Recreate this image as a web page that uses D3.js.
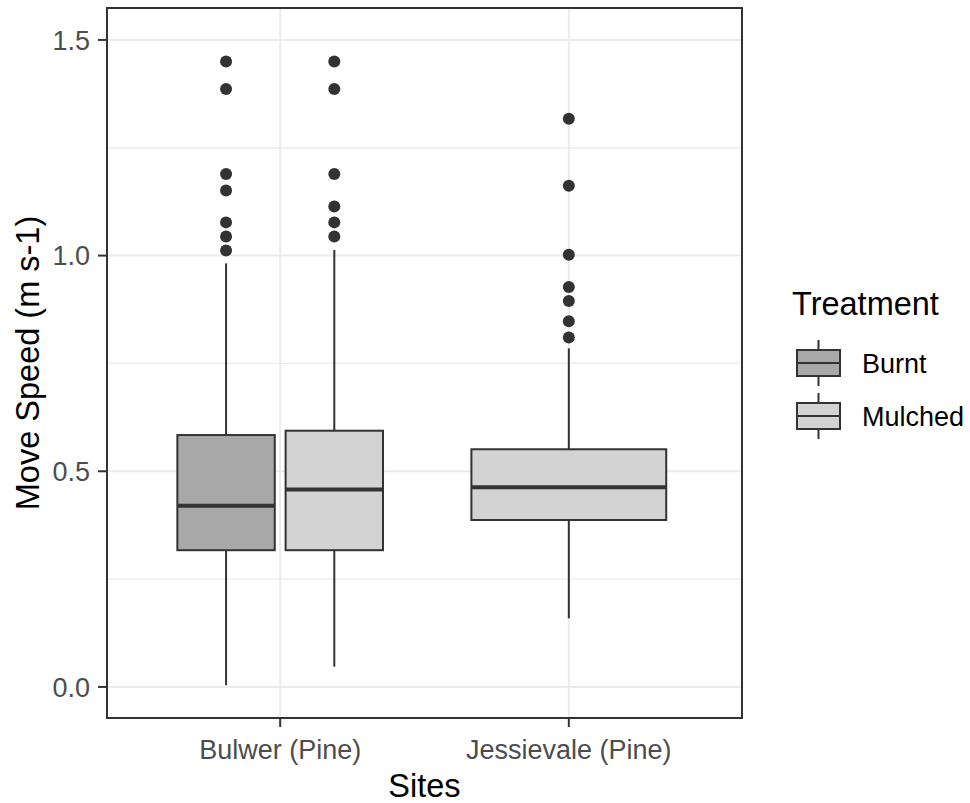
<!DOCTYPE html>
<html>
<head>
<meta charset="utf-8">
<script src="https://cdn.jsdelivr.net/npm/d3@7"></script>
<style>
  body { margin: 0; background: #fff; }
  text { font-family: "Liberation Sans", Arial, sans-serif; }
</style>
</head>
<body>
<svg id="chart" width="970" height="803"></svg>
<script>
// Daten
var sites = ["Bulwer (Pine)", "Jessievale (Pine)"];
var treatments = ["Burnt", "Mulched"];
var fills = ["#a8a8a8", "#d3d3d3"];

// eine Box pro Eintrag
var boxSite      = ["Bulwer (Pine)", "Bulwer (Pine)", "Jessievale (Pine)"];
var boxTreatment = ["Burnt", "Mulched", "Mulched"];
var boxLower     = [0.004, 0.047, 0.159];
var boxQ1        = [0.317, 0.317, 0.387];
var boxMedian    = [0.420, 0.458, 0.463];
var boxQ3        = [0.584, 0.594, 0.551];
var boxUpper     = [0.982, 1.013, 0.785];
var boxOutliers  = [
  [1.450, 1.386, 1.189, 1.151, 1.077, 1.044, 1.012],
  [1.450, 1.386, 1.189, 1.114, 1.077, 1.044],
  [1.317, 1.162, 1.002, 0.927, 0.895, 0.848, 0.810]
];

var yMajor = [0, 0.5, 1.0, 1.5];
var yMinor = [0.25, 0.75, 1.25];

var panel = {left: 107, right: 742, top: 8, bottom: 718};
var ink = "#333333";

var svg = d3.select("#chart");

var x = d3.scalePoint().domain(sites).range([panel.left, panel.right]).padding(0.6);
var y = d3.scaleLinear().domain([-0.072, 1.574]).range([panel.bottom, panel.top]);
var step = x.step();

// Gitterlinien
var grid = svg.append("g");
grid.selectAll(".minor").data(yMinor).enter().append("line")
  .attr("x1", panel.left).attr("x2", panel.right)
  .attr("y1", function(d){ return y(d); }).attr("y2", function(d){ return y(d); })
  .attr("stroke", "#ebebeb").attr("stroke-width", 1.3);
grid.selectAll(".major").data(yMajor).enter().append("line")
  .attr("x1", panel.left).attr("x2", panel.right)
  .attr("y1", function(d){ return y(d); }).attr("y2", function(d){ return y(d); })
  .attr("stroke", "#ebebeb").attr("stroke-width", 2);
grid.selectAll(".vmajor").data(sites).enter().append("line")
  .attr("y1", panel.top).attr("y2", panel.bottom)
  .attr("x1", function(d){ return x(d); }).attr("x2", function(d){ return x(d); })
  .attr("stroke", "#ebebeb").attr("stroke-width", 2);

// Boxen: dodge2 mit padding 0.1
var boxes = boxSite.map(function(s, i){
  var n = boxSite.filter(function(t){ return t === s; }).length;
  var k = boxSite.slice(0, i).filter(function(t){ return t === s; }).length;
  var slot = 0.75 * step / n;
  var cx = x(s) - 0.375 * step + slot * (k + 0.5);
  return {
    cx: cx, w: slot * 0.9,
    fill: fills[treatments.indexOf(boxTreatment[i])],
    lower: boxLower[i], q1: boxQ1[i], med: boxMedian[i], q3: boxQ3[i],
    upper: boxUpper[i], out: boxOutliers[i]
  };
});

var bg = svg.append("g");
boxes.forEach(function(b){
  var g = bg.append("g");
  g.append("line").attr("x1", b.cx).attr("x2", b.cx)
    .attr("y1", y(b.q3)).attr("y2", y(b.upper)).attr("stroke", ink).attr("stroke-width", 2);
  g.append("line").attr("x1", b.cx).attr("x2", b.cx)
    .attr("y1", y(b.q1)).attr("y2", y(b.lower)).attr("stroke", ink).attr("stroke-width", 2);
  g.append("rect")
    .attr("x", b.cx - b.w / 2).attr("width", b.w)
    .attr("y", y(b.q3)).attr("height", y(b.q1) - y(b.q3))
    .attr("fill", b.fill).attr("stroke", ink).attr("stroke-width", 2);
  g.append("line").attr("x1", b.cx - b.w / 2).attr("x2", b.cx + b.w / 2)
    .attr("y1", y(b.med)).attr("y2", y(b.med)).attr("stroke", ink).attr("stroke-width", 4);
  g.selectAll("circle").data(b.out).enter().append("circle")
    .attr("cx", b.cx).attr("cy", function(d){ return y(d); })
    .attr("r", 6).attr("fill", ink);
});

// Rahmen
svg.append("rect")
  .attr("x", panel.left).attr("y", panel.top)
  .attr("width", panel.right - panel.left).attr("height", panel.bottom - panel.top)
  .attr("fill", "none").attr("stroke", ink).attr("stroke-width", 2);

// Achsen
var yAxis = svg.append("g");
yAxis.selectAll("line").data(yMajor).enter().append("line")
  .attr("x1", panel.left - 9).attr("x2", panel.left)
  .attr("y1", function(d){ return y(d); }).attr("y2", function(d){ return y(d); })
  .attr("stroke", ink).attr("stroke-width", 2);
yAxis.selectAll("text").data(yMajor).enter().append("text")
  .attr("x", panel.left - 17).attr("y", function(d){ return y(d); })
  .attr("dy", "0.36em").attr("text-anchor", "end")
  .attr("font-size", 27).attr("fill", "#4d4d4d")
  .text(function(d){ return d3.format(".1f")(d); });

var xAxis = svg.append("g");
xAxis.selectAll("line").data(sites).enter().append("line")
  .attr("x1", function(d){ return x(d); }).attr("x2", function(d){ return x(d); })
  .attr("y1", panel.bottom).attr("y2", panel.bottom + 9)
  .attr("stroke", ink).attr("stroke-width", 2);
xAxis.selectAll("text").data(sites).enter().append("text")
  .attr("x", function(d){ return x(d); }).attr("y", 759)
  .attr("text-anchor", "middle")
  .attr("font-size", 27).attr("fill", "#4d4d4d")
  .text(function(d){ return d; });

// Titel
svg.append("text")
  .attr("x", (panel.left + panel.right) / 2).attr("y", 797)
  .attr("text-anchor", "middle").attr("font-size", 32.5).attr("fill", "#000")
  .text("Sites");
svg.append("text")
  .attr("transform", "translate(39," + ((panel.top + panel.bottom) / 2) + ") rotate(-90)")
  .attr("text-anchor", "middle").attr("font-size", 32.5).attr("fill", "#000")
  .text("Move Speed (m s-1)");

// Legende
var legend = svg.append("g");
legend.append("text")
  .attr("x", 792).attr("y", 315)
  .attr("font-size", 32.5).attr("fill", "#000")
  .text("Treatment");

var keyY = [363, 416];
treatments.forEach(function(t, i){
  var cy = keyY[i], cx = 818.5, kw = 43;
  var k = legend.append("g");
  k.append("line").attr("x1", cx).attr("x2", cx).attr("y1", cy - 23).attr("y2", cy + 23)
    .attr("stroke", ink).attr("stroke-width", 2);
  k.append("rect").attr("x", cx - kw / 2).attr("width", kw).attr("y", cy - 13).attr("height", 26)
    .attr("fill", fills[i]).attr("stroke", ink).attr("stroke-width", 2);
  k.append("line").attr("x1", cx - kw / 2).attr("x2", cx + kw / 2).attr("y1", cy).attr("y2", cy)
    .attr("stroke", ink).attr("stroke-width", 2);
  k.append("text").attr("x", 862).attr("y", cy + 10)
    .attr("font-size", 27).attr("fill", "#000").text(t);
});
</script>
</body>
</html>
